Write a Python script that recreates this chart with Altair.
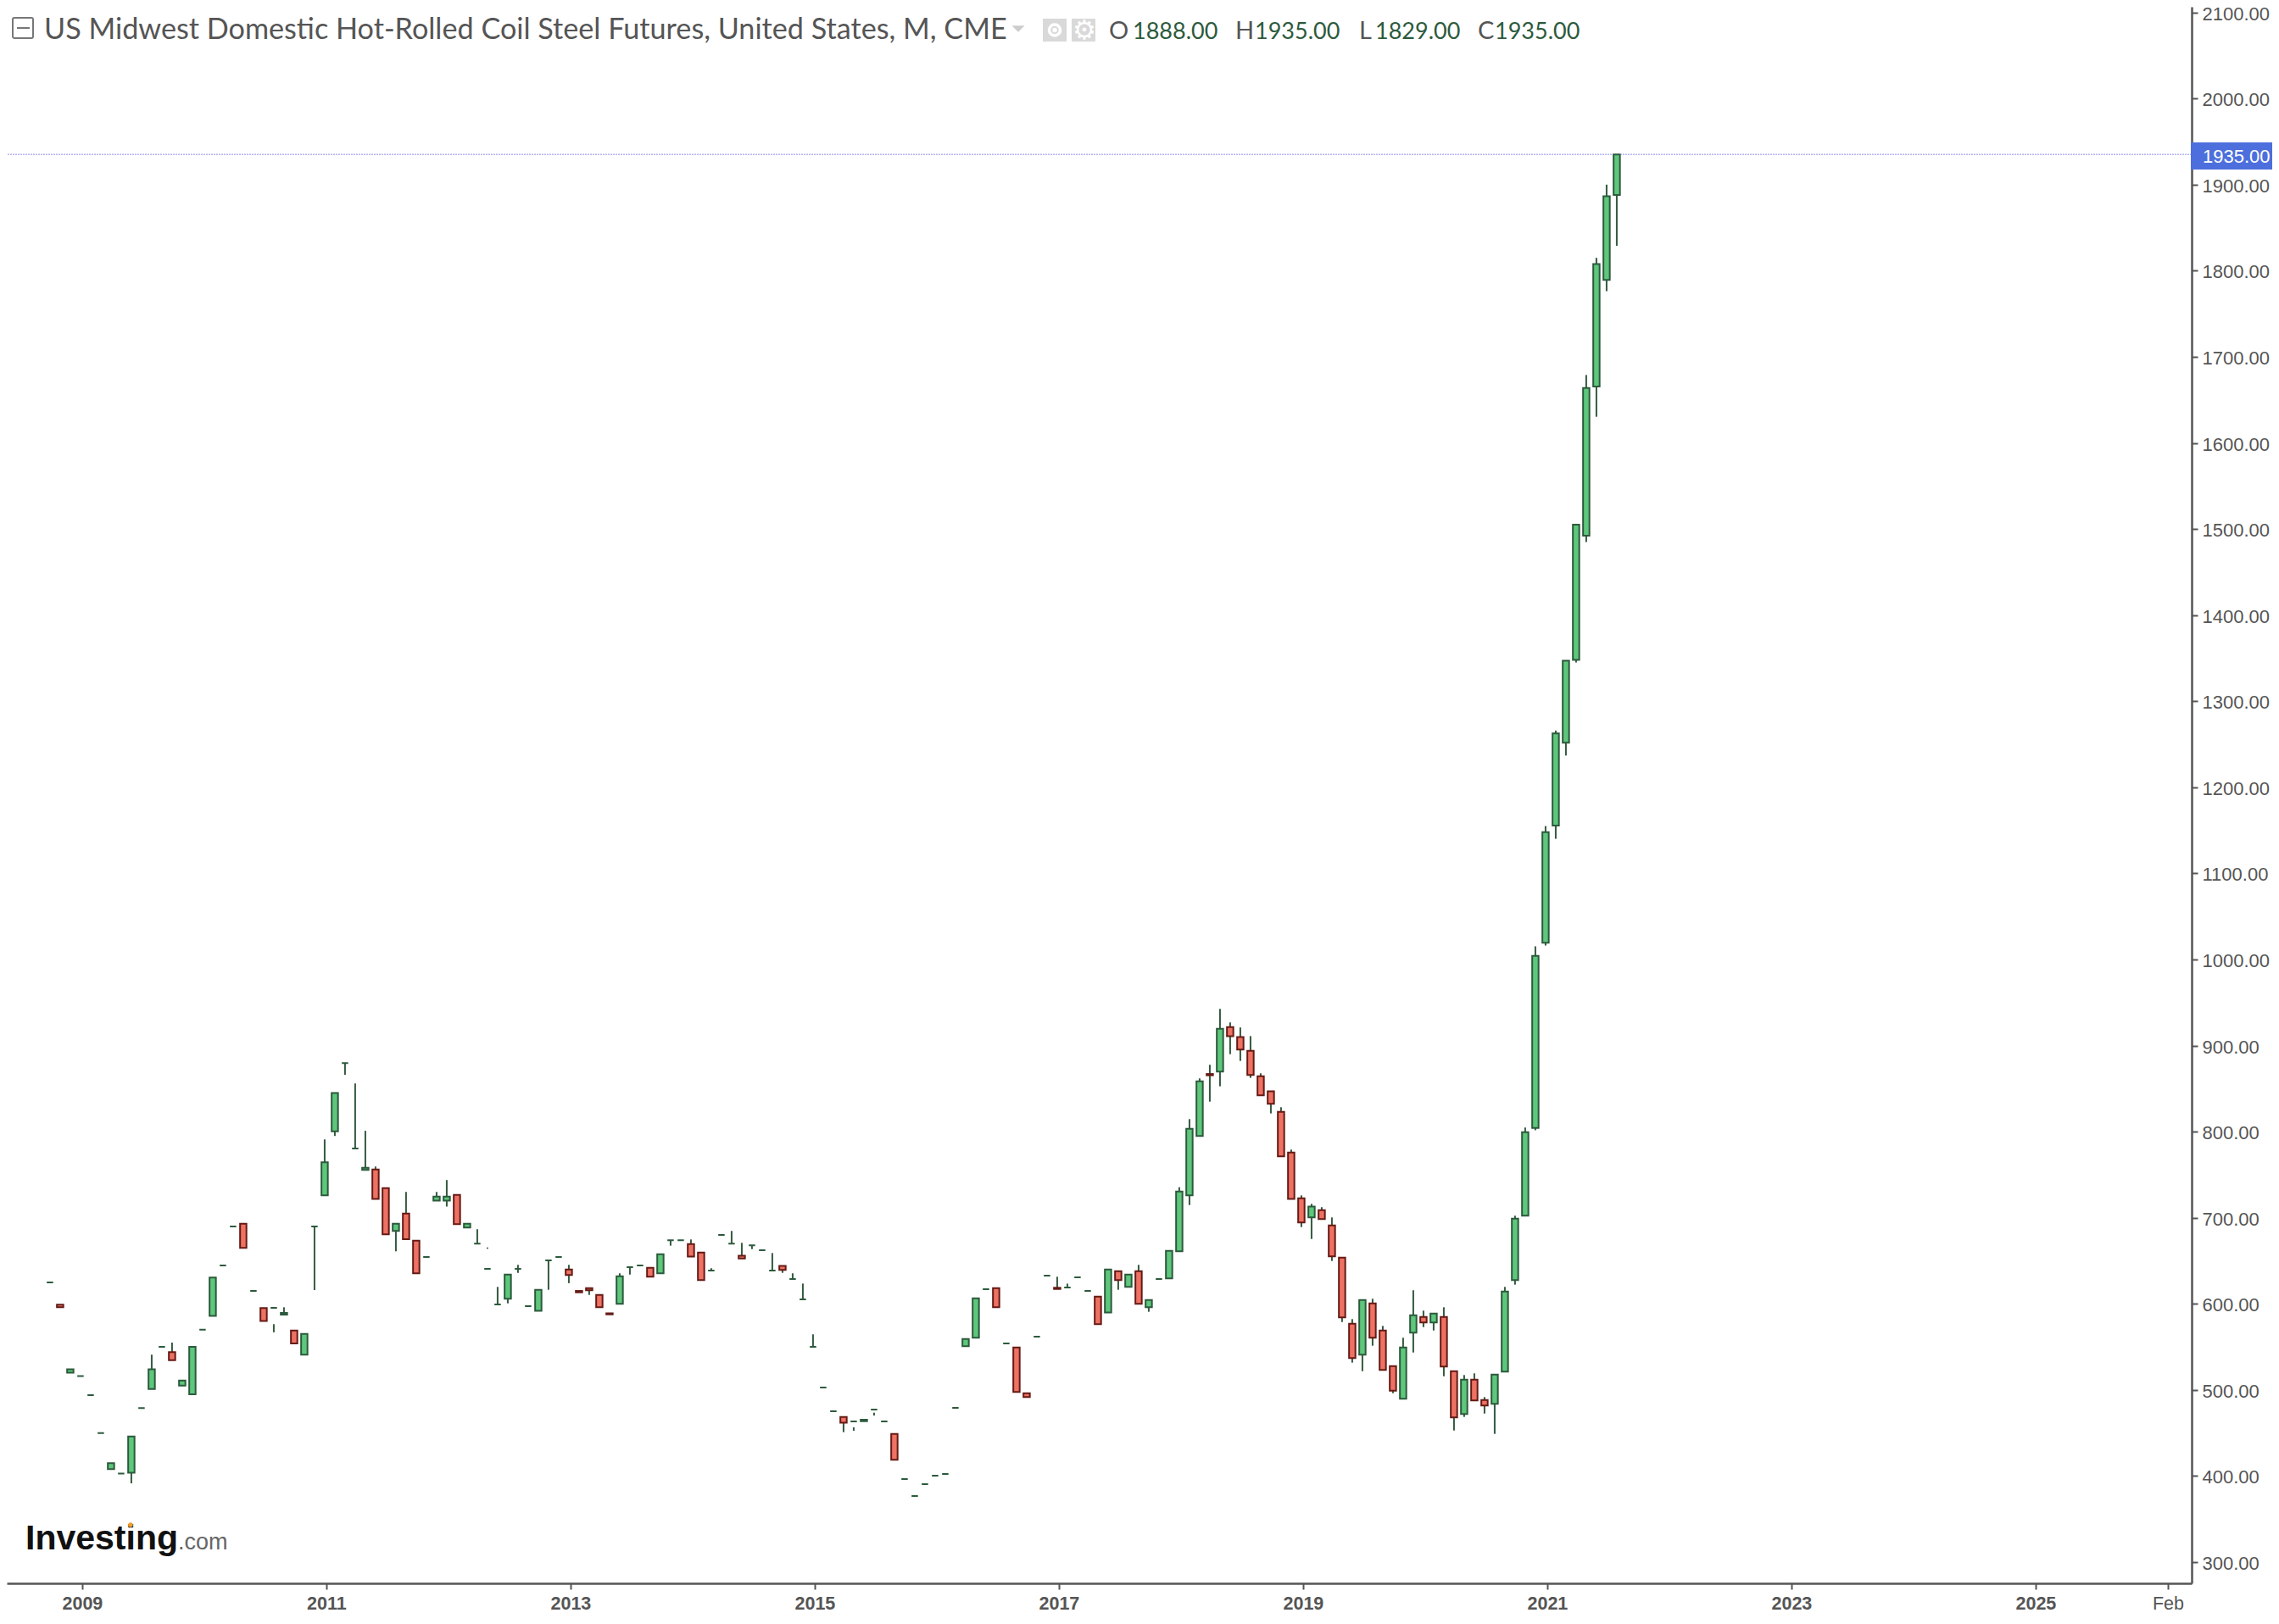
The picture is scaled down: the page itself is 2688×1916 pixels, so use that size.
import altair as alt
import pandas as pd

# monthly candles, Oct 2008 to Aug 2021
opens = [
    625, 599, 520, 516, 494, 450, 408, 403, 404, 479,
    501, 550, 544, 505, 495, 570, 586, 644.6, 690, 693,
    615, 595, 595.4, 587.5, 569, 541, 690, 726, 800.5, 879.6,
    780.5, 755.6, 756, 734.5, 684.7, 705, 673.5, 654.5, 720, 720,
    726.6, 688.6, 670, 640.7, 599.3, 606, 640.7, 597.3, 592, 650.5,
    654.5, 640, 615, 618.3, 610.4, 589, 600, 642.6, 644.6, 642,
    635.5, 674, 674, 669.5, 659.7, 638.7, 680, 670, 656, 668,
    662.3, 638.7, 644, 628.9, 605.2, 550, 502.8, 475.3, 468.7, 463.4,
    463.7, 477.2, 463.4, 449, 396.5, 376.8, 390.6, 400.4, 402.4, 479.2,
    550.8, 560.6, 617, 618.3, 554, 549.4, 496.2, 561.9, 632.8, 618.7,
    619, 630.8, 615, 608.5, 590, 638, 619.7, 638, 596, 628.9,
    629.5, 661, 726, 795, 867, 869.8, 921.6, 909.8, 894, 864.5,
    846.8, 823, 775.9, 722.7, 700.4, 708.9, 691.2, 653.8, 577, 541,
    600.6, 569.1, 527.7, 489.7, 566.5, 584.8, 578.3, 584.8, 521.8, 472,
    512, 488.4, 483.8, 521.2, 627.6, 702.4, 804.4, 1019.4, 1155.6, 1251.9,
    1348.1, 1492.2, 1665.5, 1789.3, 1888,
]
closes = [
    625, 596, 524, 516, 494, 450, 415, 403, 446, 479,
    524, 550, 534.5, 511, 550, 570, 630.5, 644.6, 690, 665,
    615, 580, 595.4, 589.5, 554, 565, 690, 764.4, 845, 879.6,
    780.5, 758, 722, 680.7, 693, 675, 635.5, 654.5, 724.7, 724.7,
    692.6, 693, 670, 640.7, 599.3, 634, 640.7, 597.3, 616.4, 650.5,
    654.5, 633.5, 613.4, 615.8, 596, 587.8, 632, 642.6, 644.6, 631.5,
    657.7, 674, 674, 655, 627.6, 638.7, 680, 670, 652.8, 668,
    662.3, 638.7, 639.4, 628.9, 605.2, 550, 502.8, 475.3, 462, 463.4,
    465.4, 477.2, 463.4, 418.8, 396.5, 376.8, 390.6, 400.4, 402.4, 479.2,
    559.2, 606.5, 617, 596, 554, 497.6, 491.7, 561.9, 632.8, 617.3,
    619, 630.8, 615, 576.4, 640, 627.6, 634, 600, 604.5, 628.9,
    661.6, 730.6, 803.4, 858.6, 865.5, 919.6, 911, 895.4, 865.9, 842.2,
    832.4, 771.3, 722, 694.5, 712.9, 698.5, 655.2, 584.3, 537, 604.5,
    560.6, 523.2, 499.2, 549.4, 586.8, 578.3, 588.8, 527.1, 468, 512,
    487.8, 481.9, 517.9, 614.4, 699.1, 799.5, 1004.2, 1147.9, 1262.6, 1347,
    1505, 1663.9, 1807.7, 1886.5, 1935,
]
highs = [
    625, 599, 524, 516, 494, 450, 415, 403, 446, 479,
    541, 550, 555, 511, 550, 570, 630.5, 644.6, 690, 693,
    615, 595, 576.4, 596, 569, 565, 690, 791, 845, 879.6,
    856, 801, 759.5, 734.5, 693, 730, 673.5, 654.5, 730, 743.8,
    726.6, 693, 686.7, 665.5, 619.7, 634, 645.3, 597.3, 616.4, 650.5,
    654.5, 645.3, 615, 618.3, 610.4, 589, 635.5, 642.6, 644.6, 642,
    657.7, 674, 674, 674.8, 659.7, 641.4, 680, 684.7, 670.9, 668,
    662.3, 659, 644, 635.5, 623.6, 564.6, 502.8, 475.3, 468.7, 456.6,
    465.4, 473.6, 463.4, 449, 396.5, 376.8, 390.6, 400.4, 402.4, 479.2,
    559.2, 606.5, 617, 618.3, 554, 549.4, 496.2, 561.9, 632.8, 631.5,
    623.5, 630.8, 615, 608.5, 640, 638, 634, 645.3, 604.5, 628.9,
    661.6, 735.5, 814.6, 861.9, 877.7, 942.6, 926.9, 921, 911, 867.8,
    846.8, 828.4, 779.2, 726, 716.2, 712.3, 700.4, 653.8, 582.3, 604.5,
    605.9, 574.4, 527.7, 560.6, 615.8, 592.1, 588.8, 596, 521.8, 517.3,
    519.3, 491.7, 517.9, 619.7, 702.4, 804.8, 1015.3, 1155, 1265.9, 1347,
    1505, 1678.9, 1815, 1900, 1935,
]
lows = [
    625, 596, 520, 516, 494, 450, 408, 403, 391.5, 479,
    501, 550, 534.5, 505, 495, 570, 586, 644.6, 690, 665,
    615, 580, 567, 587.5, 554, 541, 616, 726, 795, 866,
    780.5, 755.6, 722, 680.7, 661, 675, 635.5, 654.5, 720, 713,
    692.6, 688.6, 670, 664, 599.3, 600.6, 636, 597.3, 592, 616.4,
    654.5, 624, 613.4, 610.4, 596, 587.8, 600, 634, 644.6, 631.5,
    635.5, 667.6, 674, 655, 627.6, 638.7, 680, 670, 652.8, 663.6,
    662.3, 638.7, 636, 628.9, 605.2, 550, 502.8, 475.3, 451, 452.6,
    463.7, 470.3, 463.4, 418.8, 396.5, 376.8, 390.6, 400.4, 402.4, 479.2,
    550.8, 560.6, 617, 596, 554, 497.6, 491.7, 561.9, 632.8, 617.3,
    619, 630.8, 615, 576.4, 590, 616.4, 619.7, 600, 590.8, 628.9,
    629.5, 661, 714.8, 795, 834.9, 852.7, 890, 882.2, 862.5, 842.2,
    821.2, 771.3, 722, 689.2, 675.4, 698.5, 649.8, 578.9, 531.7, 521.8,
    551.4, 523.2, 496.2, 489.7, 543.5, 573, 569.1, 515.9, 452.9, 468.7,
    487.8, 472.6, 449, 521.2, 622.3, 702.4, 801.7, 1016.2, 1140.2, 1236.9,
    1345, 1484.9, 1630.4, 1776.3, 1829,
]

price_ticks = [300 + 100 * n for n in range(19)]
month_ticks = [0, 24, 48, 72, 96, 120, 144, 168, 192, 205]
month_labels = ["2009", "2011", "2013", "2015", "2017", "2019", "2021", "2023", "2025", "Feb"]

last_price = 1935

GREY = "#555555"
WICK = "#33593f"
VALUE = "#2c5a3c"
UI = "Liberation Sans"
HEAD = "Lato"

df = pd.DataFrame({"open": opens, "close": closes, "high": highs, "low": lows})
df["month"] = df.index - 3  # months since Jan 2009
df["side"] = ["down" if c < o else "up" for o, c in zip(opens, closes)]

y_scale = alt.Scale(domain=[275.4, 2106.6], nice=False, zero=False, padding=0)

x = alt.X(
    "month:Q",
    title=None,
    scale=alt.Scale(domain=[-7.41, 207.34], nice=False, zero=False, padding=0),
    axis=alt.Axis(
        values=month_ticks,
        labelExpr="{%s}[datum.value]" % ",".join("%d:'%s'" % p for p in zip(month_ticks, month_labels)),
        grid=False,
        domainColor=GREY,
        domainWidth=2.5,
        tickColor=GREY,
        tickWidth=2,
        tickSize=7,
        labelFont=UI,
        labelFontSize=21.5,
        labelColor=GREY,
        labelFontWeight={"condition": {"test": "datum.value == 205", "value": "normal"}, "value": "bold"},
        labelPadding=6,
        labelOverlap=False,
        labelFlush=False,
        labelBound=False,
    ),
)
y = alt.Y(
    "high:Q",
    title=None,
    scale=y_scale,
    axis=alt.Axis(
        orient="right",
        values=price_ticks,
        format=".2f",
        grid=False,
        domainColor=GREY,
        domainWidth=2.5,
        tickColor=GREY,
        tickWidth=2,
        tickSize=7,
        labelFont=UI,
        labelFontSize=22,
        labelColor=GREY,
        labelPadding=5,
        labelOffset=1.5,
        labelOverlap=False,
        labelBound=False,
    ),
)

wicks = alt.Chart(df).mark_rule(color=WICK, strokeWidth=2, xOffset=-2).encode(x=x, y=y, y2="low:Q")

bodies = alt.Chart(df).mark_bar(size=7.5, strokeWidth=2, xOffset=-2).encode(
    x=x,
    y=alt.Y("open:Q", title=None, scale=y_scale),
    y2="close:Q",
    fill=alt.Fill("side:N", legend=None, scale=alt.Scale(domain=["up", "down"], range=["#5ec77c", "#ee7264"])),
    stroke=alt.Stroke("side:N", legend=None, scale=alt.Scale(domain=["up", "down"], range=["#2c5a3c", "#651a14"])),
)

one = pd.DataFrame({"last": [last_price]})

price_line = alt.Chart(one).mark_rule(color="#b3b3f2", strokeWidth=1.5, strokeDash=[2, 1]).encode(
    y=alt.Y("last:Q", title=None, scale=y_scale),
    x=alt.value(-8),
    x2=alt.value(2583),
)


def box(x1, x2, y1, y2, **kw):
    return alt.Chart(one).mark_rect(**kw).encode(
        x=alt.value(x1 - 8), x2=alt.value(x2 - 8), y=alt.value(y1 - 8), y2=alt.value(y2 - 8)
    )


def label(text, left, base, size=27, color=GREY, font=HEAD, weight="normal"):
    return alt.Chart(one).mark_text(
        text=text, align="left", baseline="alphabetic", fontSize=size, color=color, font=font, fontWeight=weight
    ).encode(x=alt.value(left - 8), y=alt.value(base - 8))


def dot(cx, cy, **kw):
    return alt.Chart(one).mark_point(**kw).encode(x=alt.value(cx - 8), y=alt.value(cy - 8))


price_tag = box(2584, 2680, 168, 200, color="#4d6fdd")
price_text = label("1935.00", 2598, 191.5, size=22, color="white", font=UI)

header = [
    box(15, 39, 21, 45, fill="white", stroke="#777777", strokeWidth=2, cornerRadius=2),
    box(20, 35, 32, 34, color="#777777"),
    label("US Midwest Domestic Hot-Rolled Coil Steel Futures, United States, M, CME", 52, 46, size=34.2),
    dot(1201, 34, shape="M-1,-0.5L1,-0.5L0,0.5Z", size=225, filled=True, color="#cccccc", opacity=1),
    box(1230, 1258, 22, 49, color="#d9d9d9"),
    dot(1244, 35.5, shape="circle", size=170, color="white", strokeWidth=3.5, opacity=1),
    dot(1244, 35.5, shape="circle", size=30, color="white", filled=True, opacity=1),
    box(1264, 1292, 22, 49, color="#d9d9d9"),
    label("\u2699", 1265, 46, size=31, color="white", font="DejaVu Sans"),
    label("O", 1308, 46, size=29),
    label("1888.00", 1336, 46, color=VALUE),
    label("H", 1457, 46, size=29),
    label("1935.00", 1480, 46, color=VALUE),
    label("L", 1603, 46, size=29),
    label("1829.00", 1622, 46, color=VALUE),
    label("C", 1743, 46, size=29),
    label("1935.00", 1763, 46, color=VALUE),
]

logo = [
    label("Investing", 30, 1828, size=41, color="#111111", font=UI, weight="bold"),
    label(".com", 210, 1828, size=27, color="#666666", font=UI),
    dot(154, 1799, shape="circle", size=30, color="#f0a030", filled=True, opacity=1),
]

chart = alt.layer(price_line, wicks, bodies, price_tag, price_text, *header, *logo).properties(
    width=2577,
    height=1860,
    padding={"left": 0, "top": 0, "right": 95, "bottom": 40},
    autosize=alt.AutoSizeParams(type="none"),
    background="white",
).configure_view(stroke=None)

chart.save("out.html", embed_options={"renderer": "svg", "actions": False})
